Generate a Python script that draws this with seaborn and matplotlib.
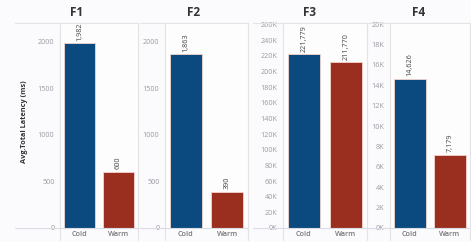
import matplotlib
matplotlib.use("Agg")
import matplotlib.pyplot as plt
from matplotlib.lines import Line2D
import seaborn as sns
import pandas as pd

# ---- data ----
panels = ["F1", "F2", "F3", "F4"]
categories = ["Cold", "Warm"]
cold_vals = [1982, 1863, 221779, 14626]
warm_vals = [600, 390, 211770, 7179]
y_max = [2200, 2200, 262000, 20100]
y_ticks = [
    [0, 500, 1000, 1500, 2000],
    [0, 500, 1000, 1500, 2000],
    list(range(0, 260001, 20000)),
    list(range(0, 20001, 2000)),
]
y_ticklabels = [
    ["0", "500", "1000", "1500", "2000"],
    ["0", "500", "1000", "1500", "2000"],
    [f"{v // 1000}K" for v in range(0, 260001, 20000)],
    [f"{v // 1000}K" for v in range(0, 20001, 2000)],
]
y_label = "Avg.Total Latency (ms)"
colors = {"Cold": "#0b4a7f", "Warm": "#9b2f1f"}

W, H = 471, 242
sns.set_theme(style="white")
plt.rcParams["font.family"] = ["Open Sans", "DejaVu Sans"]

fig = plt.figure(figsize=(W / 100, H / 100), dpi=100)
fig.patch.set_facecolor("#fbfbfd")

# plot-area pixel extents (left, right) and tick-area left edge
plot_x = [(60, 138), (165, 248), (283, 367), (390, 470)]
panel_left = [15, 140, 253, 368]
top_px, bot_px = 23, 228

line_col = "#e6e2e4"

def fx(px):
    return px / W

def fy(py):
    return 1 - py / H

for i, name in enumerate(panels):
    x0, x1 = plot_x[i]
    ax = fig.add_axes([fx(x0), fy(bot_px), (x1 - x0) / W, (bot_px - top_px) / H])
    ax.set_facecolor("#fdfdfe")
    df = pd.DataFrame({"cat": categories, "val": [cold_vals[i], warm_vals[i]]})
    sns.barplot(data=df, x="cat", y="val", hue="cat", palette=colors,
                width=0.78, ax=ax, legend=False, edgecolor="#f3d6cf", linewidth=0.6,
                saturation=1)
    ax.set_xlim(-0.5, 1.5)
    ax.set_ylim(0, y_max[i])
    ax.set_yticks(y_ticks[i])
    ax.set_yticklabels(y_ticklabels[i], fontsize=5.2, color="#9a9aa4")
    ax.tick_params(axis="y", length=0, pad=4)
    ax.tick_params(axis="x", length=0, pad=2)
    ax.set_xticks([0, 1])
    ax.set_xticklabels(categories, fontsize=5.2, color="#777", fontweight="semibold")
    ax.set_xlabel("")
    ax.set_ylabel("")
    for s in ["left", "right", "top"]:
        ax.spines[s].set_color(line_col)
        ax.spines[s].set_linewidth(0.8)
    ax.spines["bottom"].set_color("#d8dce4")
    ax.spines["bottom"].set_linewidth(0.8)
    ax.grid(False)
    # value labels
    for j, v in enumerate([cold_vals[i], warm_vals[i]]):
        ax.annotate(f"{v:,}", (j, v), xytext=(0, 2), textcoords="offset points",
                    rotation=90, ha="center", va="bottom", fontsize=5.2, color="#444")
    # title centred over whole panel
    cx = (panel_left[i] + x1) / 2
    fig.text(fx(cx), fy(12), name, ha="center", va="center", fontsize=8.5,
             fontweight="bold", color="#333")
    # top line across tick area
    fig.add_artist(Line2D([fx(panel_left[i]), fx(x0)], [fy(top_px), fy(top_px)],
                          color=line_col, lw=0.8))
    # baseline across tick area
    fig.add_artist(Line2D([fx(panel_left[i]), fx(x0)], [fy(bot_px), fy(bot_px)],
                          color="#d8dce4", lw=0.8))
    # separators in category row
    for xx in (x0, x1):
        fig.add_artist(Line2D([fx(xx), fx(xx)], [fy(bot_px), fy(240)],
                              color=line_col, lw=0.8))

fig.text(fx(25), fy(122), y_label, rotation=90, ha="center", va="center",
         fontsize=5.3, fontweight="bold", color="#333")

fig.savefig("out.png", dpi=100, facecolor=fig.get_facecolor())
